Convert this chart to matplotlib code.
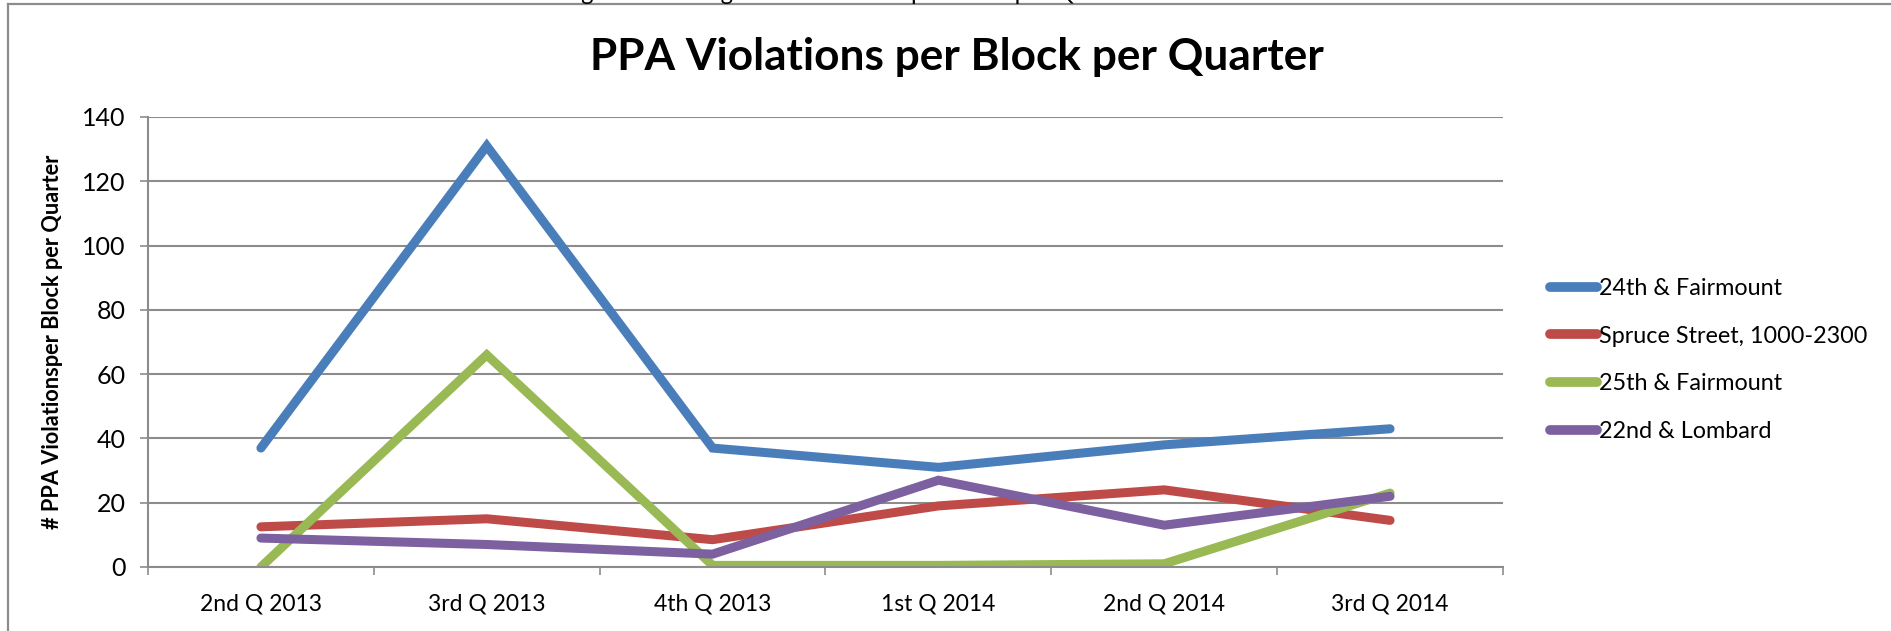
#!/usr/bin/env python3

import matplotlib

matplotlib.use("Agg")
import matplotlib.pyplot as plt
from matplotlib.lines import Line2D

quarters = ["2nd Q 2013", "3rd Q 2013", "4th Q 2013", "1st Q 2014", "2nd Q 2014", "3rd Q 2014"]
fairmount_24th = [37, 131, 37, 31, 38, 43]
spruce_street = [12.5, 15, 8.5, 19, 24, 14.5]
fairmount_25th = [0, 66, 0.5, 0.5, 1, 23]
lombard_22nd = [9, 7, 4, 27, 13, 22]

series_names = ["24th & Fairmount", "Spruce Street, 1000-2300", "25th & Fairmount", "22nd & Lombard"]
series_colors = ["#4A7EBB", "#BE4B48", "#98B954", "#7D60A0"]

plt.rcParams["font.family"] = ["Lato", "DejaVu Sans"]

W, H = 1891, 631
fig = plt.figure(figsize=(W / 100, H / 100), dpi=100)

# outer chart frame (left and top edges visible)
fig.add_artist(Line2D([8 / W, 8 / W], [0, 1 - 4 / H], color="#8c8c8c", lw=1.6))
fig.add_artist(Line2D([8 / W, 1], [1 - 4 / H, 1 - 4 / H], color="#8c8c8c", lw=1.6))

# caption of the page above, cut off so that only descenders show
fig.text(850 / W, 1 - 4 / H, "Figure 3: Average PPA Violations per Block per Quarter",
         ha="center", va="bottom", fontsize=17)

ax = fig.add_axes([148 / W, 1 - 567 / H, (1503 - 148) / W, (567 - 117) / H])

x = range(len(quarters))
for values, name, color in zip(
    [fairmount_24th, spruce_street, fairmount_25th, lombard_22nd], series_names, series_colors
):
    ax.plot(x, values, color=color, lw=6.5, label=name, solid_capstyle="round",
            solid_joinstyle="miter")

ax.set_xlim(-0.5, len(quarters) - 0.5)
ax.set_ylim(0, 140)
ax.set_yticks(range(0, 141, 20))
ax.set_xticks(list(x))
ax.set_xticks([i - 0.5 for i in range(len(quarters) + 1)], minor=True)
ax.set_xticklabels(quarters, fontsize=16.5)

ax.grid(axis="y", color="#8c8c8c", lw=1.5)
ax.set_axisbelow(True)
for side in ["top", "right"]:
    ax.spines[side].set_visible(False)
for side in ["left", "bottom"]:
    ax.spines[side].set_color("#8c8c8c")
    ax.spines[side].set_linewidth(1.5)

ax.tick_params(axis="x", which="major", length=0, pad=19)
ax.tick_params(axis="x", which="minor", length=6, width=1.2, color="#8c8c8c")
ax.tick_params(axis="y", length=6, width=1.2, color="#8c8c8c", pad=10, labelsize=18)

ax.set_ylabel("# PPA Violationsper Block per Quarter", fontsize=15.7, fontweight="bold",
              labelpad=14)
ax.set_title("PPA Violations per Block per Quarter", fontsize=31.8, fontweight="bold",
             x=(957 - 148) / (1503 - 148), pad=34)

leg = ax.legend(loc="center left", bbox_to_anchor=(1.028, 0.46), frameon=False, fontsize=16.8,
                handlelength=2.0, handletextpad=0.1, labelspacing=1.15, borderaxespad=0)
for handle in leg.get_lines():
    handle.set_linewidth(7)
    handle.set_solid_capstyle("round")

fig.savefig("out.png", dpi=100)
